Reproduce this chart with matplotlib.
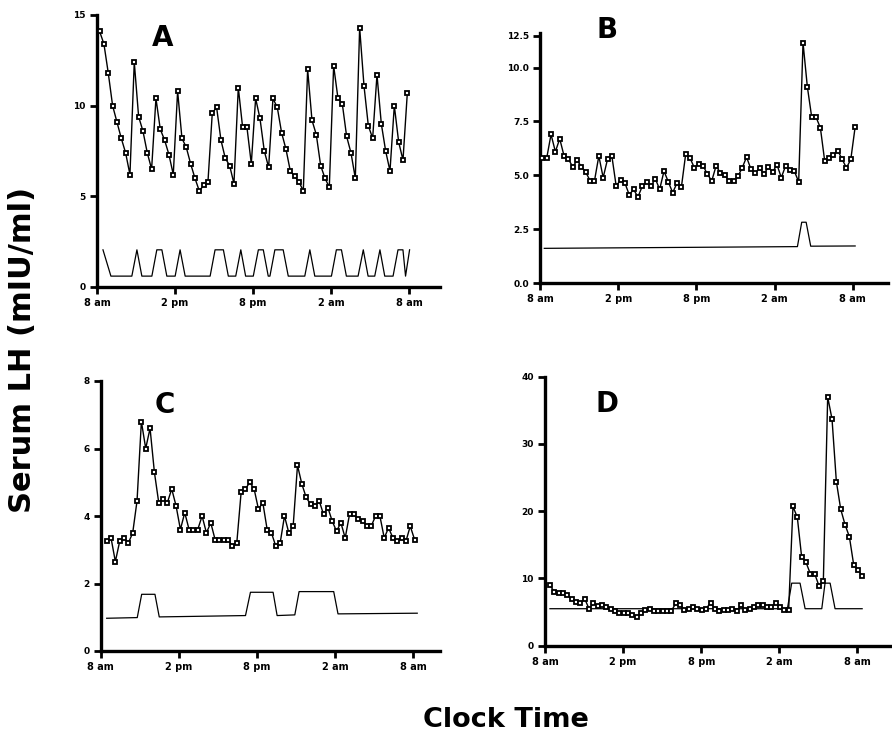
import matplotlib
matplotlib.use("Agg")
import matplotlib.pyplot as plt
import numpy as np

# ---------------- data (hours after 8 am, serum LH mIU/ml) ----------------
tick_hours = [0, 6, 12, 18, 24]
tick_labels = ["8 am", "2 pm", "8 pm", "2 am", "8 am"]

# Panel A (20-min sampling)
A_start = 0.2
A_lh = [14.1, 13.4, 11.8, 10.0, 9.1, 8.2, 7.4, 6.2, 12.4, 9.4, 8.6, 7.4,
        6.5, 10.4, 8.7, 8.1, 7.3, 6.2, 10.8, 8.2, 7.7, 6.8, 6.0, 5.3,
        5.6, 5.8, 9.6, 9.9, 8.1, 7.1, 6.7, 5.7, 11.0, 8.8, 8.8, 6.8,
        10.4, 9.3, 7.5, 6.6, 10.4, 9.9, 8.5, 7.6, 6.4, 6.1, 5.8, 5.3,
        12.0, 9.2, 8.4, 6.7, 6.0, 5.5, 12.2, 10.4, 10.1, 8.3, 7.4, 6.0,
        14.3, 11.1, 8.9, 8.2, 11.7, 9.0, 7.5, 6.4, 10.0, 8.0, 7.0, 10.7]
A_pulse_t = [0.46, 1.07, 2.68, 3.07, 3.45, 4.22, 4.60, 4.99, 5.37, 6.01, 6.39, 6.78,
             8.70, 9.08, 9.72, 10.10, 10.67, 11.06, 11.43, 12.02, 12.41, 12.79, 13.17,
             13.30, 13.68, 14.32, 14.71, 15.98, 16.37, 16.75, 18.03, 18.41, 18.80, 19.18,
             20.08, 20.48, 20.85, 21.36, 21.76, 22.13, 22.77, 23.15, 23.53, 23.73, 24.04]
A_pulse_on = [1, 0, 0, 1, 0, 0, 1, 1, 0, 0, 1, 0, 0, 1, 1, 0, 0, 1, 0, 0, 1, 1, 0,
              0, 1, 1, 0, 0, 1, 0, 0, 1, 1, 0, 0, 1, 0, 0, 1, 0, 0, 1, 1, 0, 1]
A_pulse_levels = (0.6, 2.05)

# Panel B
B_start = 0.18
B_lh = [5.8, 5.8, 6.9, 6.1, 6.7, 5.9, 5.75, 5.4, 5.7, 5.4, 5.15, 4.75,
        4.75, 5.9, 4.9, 5.75, 5.9, 4.5, 4.8, 4.65, 4.1, 4.35, 4.0, 4.5,
        4.7, 4.5, 4.85, 4.35, 5.2, 4.7, 4.2, 4.65, 4.45, 6.0, 5.8, 5.35,
        5.55, 5.45, 5.05, 4.75, 5.45, 5.1, 5.0, 4.75, 4.75, 4.95, 5.35, 5.85,
        5.3, 5.1, 5.35, 5.05, 5.4, 5.15, 5.5, 4.9, 5.45, 5.25, 5.2, 4.7,
        11.15, 9.1, 7.7, 7.7, 7.2, 5.65, 5.8, 5.95, 6.15, 5.75, 5.35, 5.75, 7.25]
B_pulse_t = [0.33, 19.75, 20.08, 20.42, 20.77, 24.18]
B_pulse_v = [1.62, 1.70, 2.83, 2.83, 1.72, 1.73]

# Panel C
C_start = 0.46
C_lh = [3.25, 3.35, 2.65, 3.25, 3.35, 3.2, 3.5, 4.45, 6.8, 6.0, 6.6, 5.3,
        4.4, 4.5, 4.4, 4.8, 4.3, 3.6, 4.1, 3.6, 3.6, 3.6, 4.0, 3.5,
        3.8, 3.3, 3.3, 3.3, 3.3, 3.1, 3.2, 4.7, 4.8, 5.0, 4.8, 4.2,
        4.4, 3.6, 3.5, 3.1, 3.2, 4.0, 3.5, 3.7, 5.5, 4.95, 4.55, 4.35,
        4.3, 4.45, 4.05, 4.25, 3.85, 3.55, 3.8, 3.35, 4.05, 4.05, 3.9, 3.85,
        3.7, 3.7, 4.0, 4.0, 3.35, 3.65, 3.35, 3.25, 3.35, 3.25, 3.7, 3.3]
C_pulse_t = [0.46, 2.81, 3.15, 4.17, 4.50, 11.13, 11.51, 13.25, 13.56, 14.92,
             15.25, 17.91, 18.24, 24.33]
C_pulse_v = [0.97, 0.99, 1.68, 1.68, 1.01, 1.05, 1.74, 1.74, 1.05, 1.07,
             1.76, 1.76, 1.10, 1.12]

# Panel D
D_start = 0.38
D_lh = [9.0, 8.0, 7.8, 7.9, 7.5, 7.0, 6.5, 6.3, 7.0, 5.5, 6.3, 5.9,
        6.0, 5.7, 5.4, 5.2, 4.9, 4.9, 4.8, 4.6, 4.2, 4.8, 5.3, 5.5,
        5.1, 5.1, 5.1, 5.1, 5.2, 6.3, 6.1, 5.3, 5.4, 5.7, 5.5, 5.3,
        5.5, 6.4, 5.5, 5.1, 5.3, 5.3, 5.4, 5.1, 6.0, 5.3, 5.4, 5.7,
        6.0, 6.1, 5.8, 5.7, 6.4, 5.8, 5.3, 5.3, 20.7, 19.1, 13.2, 12.4,
        10.7, 10.7, 8.9, 9.6, 37.0, 33.7, 24.4, 20.3, 18.0, 16.2, 12.0, 11.3,
        10.3]
D_pulse_t = [0.38, 18.62, 18.95, 19.59, 19.98, 21.26, 21.51, 21.90, 22.28, 24.36]
D_pulse_v = [5.5, 5.5, 9.3, 9.3, 5.5, 5.5, 9.3, 9.3, 5.5, 5.5]

SAMPLE_STEP_H = 1.0 / 3.0   # 20-minute sampling

# ---------------- figure ----------------
W, H = 892, 744
fig = plt.figure(figsize=(W / 100, H / 100), dpi=100)


def axes_px(left, right, top, bottom):
    return fig.add_axes([left / W, 1 - bottom / H, (right - left) / W, (bottom - top) / H])


def style(ax, xmax, ylim, yticks, ylabels):
    ax.set_xlim(0, xmax)
    ax.set_ylim(*ylim)
    for s in ("top", "right"):
        ax.spines[s].set_visible(False)
    for s in ("left", "bottom"):
        ax.spines[s].set_linewidth(2.4)
        ax.spines[s].set_color("black")
    ax.set_xticks(tick_hours)
    ax.set_xticklabels(tick_labels, fontsize=7, fontweight="bold")
    ax.set_yticks(yticks)
    ax.set_yticklabels(ylabels, fontsize=6.5, fontweight="bold")
    ax.tick_params(axis="both", direction="out", length=5, width=2, pad=3, colors="black")
    ax.patch.set_alpha(0)


def series(ax, start, values):
    t = start + np.arange(len(values)) * SAMPLE_STEP_H
    ax.plot(t, values, color="black", lw=1.0, marker="s", markersize=3.3,
            markerfacecolor="white", markeredgecolor="black", markeredgewidth=1.3,
            zorder=3, clip_on=False)


def pulse(ax, t, v):
    ax.plot(t, v, color="black", lw=0.9, zorder=2, clip_on=False)


# Panel A
axA = axes_px(97, 440, 15, 287)
style(axA, 26.38, (0, 15), [0, 5, 10, 15], ["0", "5", "10", "15"])
series(axA, A_start, A_lh)
lo, hi = A_pulse_levels
pulse(axA, A_pulse_t, [hi if s else lo for s in A_pulse_on])
axA.text(0.19, 0.915, "A", transform=axA.transAxes, fontsize=20, fontweight="heavy",
         ha="center", va="center")

# Panel B
axB = axes_px(540, 888, 33, 283.3)
style(axB, 26.7, (0, 11.6), [0, 2.5, 5.0, 7.5, 10.0, 11.47],
      ["0.0", "2.5", "5.0", "7.5", "10.0", "12.5"])
series(axB, B_start, B_lh)
pulse(axB, B_pulse_t, B_pulse_v)
axB.text(0.192, 1.01, "B", transform=axB.transAxes, fontsize=20, fontweight="heavy",
         ha="center", va="center")

# Panel C
axC = axes_px(100.7, 440, 381, 651)
style(axC, 26.08, (0, 8), [0, 2, 4, 6, 8], ["0", "2", "4", "6", "8"])
series(axC, C_start, C_lh)
pulse(axC, C_pulse_t, C_pulse_v)
axC.text(0.19, 0.91, "C", transform=axC.transAxes, fontsize=20, fontweight="heavy",
         ha="center", va="center")

# Panel D
axD = axes_px(545, 890, 376.7, 645.7)
style(axD, 26.5, (0, 40), [0, 10, 20, 30, 40], ["0", "10", "20", "30", "40"])
series(axD, D_start, D_lh)
pulse(axD, D_pulse_t, D_pulse_v)
axD.text(0.18, 0.90, "D", transform=axD.transAxes, fontsize=20, fontweight="heavy",
         ha="center", va="center")

fig.text(23 / W, 1 - 350 / H, "Serum LH (mIU/ml)", rotation=90, fontsize=22,
         fontweight="heavy", ha="center", va="center")
fig.text(506 / W, 1 - 720 / H, "Clock Time", fontsize=19.5, fontweight="heavy",
         ha="center", va="center")

fig.savefig("out.png", dpi=100)
